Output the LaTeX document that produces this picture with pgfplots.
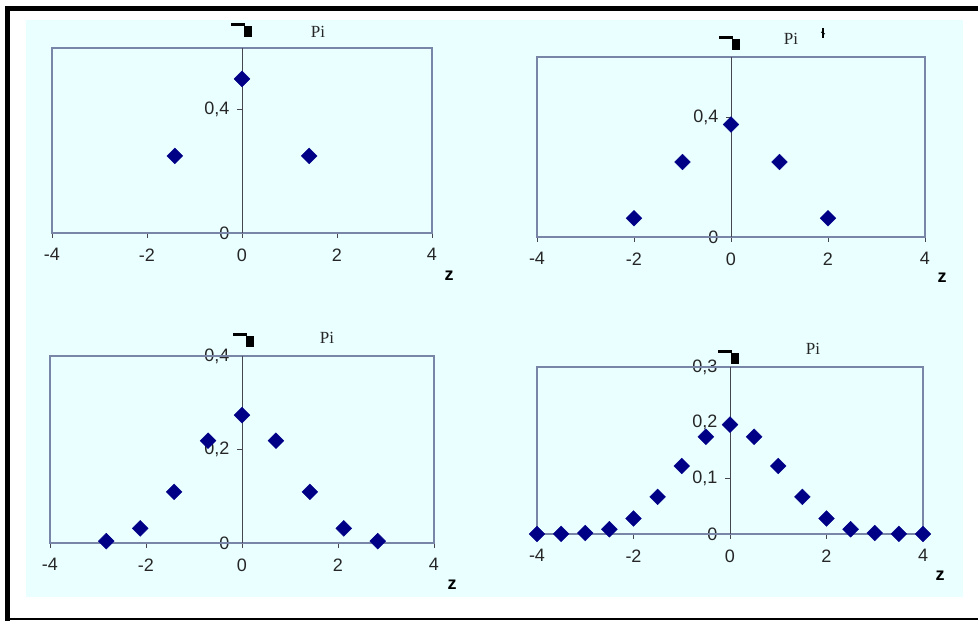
\documentclass[border=0pt]{standalone}
\usepackage{fontspec}
\usepackage{pgfplots}
\pgfplotsset{compat=1.18}
\setmainfont{Liberation Serif}
\setsansfont{Liberation Sans}

\definecolor{bgcyan}{RGB}{234,255,255}
\definecolor{framecol}{RGB}{122,134,168}
\definecolor{axiscol}{RGB}{70,70,80}
\definecolor{markcol}{RGB}{0,0,135}

\pgfplotsset{
  panel/.style={
    scale only axis,
    axis x line*=bottom,
    axis y line*=center,
    hide obscured x ticks=false,
    hide obscured y ticks=false,
    xmin=-4, xmax=4,
    xtick={-4,-2,0,2,4},
    tick align=outside,
    major tick length=5pt,
    tick style={axiscol, line width=0.7pt},
    axis line style={axiscol, line width=0.8pt},
    ticklabel style={font=\sffamily\fontsize{18}{18}\selectfont, text=black!85},
    /pgf/number format/use comma,
    /pgf/number format/assume math mode=true,
    yticklabel style={anchor=east, xshift=-4pt},
    xticklabel style={yshift=-7pt},
    clip=false,
  },
  pts/.style={only marks, mark=square*, mark size=5.6pt,
    mark options={fill=markcol, draw=markcol, rotate=45}},
}

% small glyph printed above each vertical axis
\newcommand\topglyph[2]{%
  \fill[black] (#1-13,621-#2) rectangle (#1+1,621-#2-3.5);
  \fill[black] (#1,621-#2-3) rectangle (#1+8,621-#2-14);
}

\begin{document}
\begin{tikzpicture}[x=1pt,y=1pt]
  \useasboundingbox (0,0) rectangle (978,621);
  \fill[white] (0,0) rectangle (978,621);
  \fill[bgcyan] (26,24) rectangle (963,601);
  \fill[black] (5,0) rectangle (10,615);
  \fill[black] (5,610) rectangle (978,615);
  \fill[black] (5,1) rectangle (978,3);

  % n = 2
  \begin{axis}[panel, at={(52pt,388pt)}, anchor=south west,
      width=380pt, height=185pt, ymin=0, ymax=0.6, ytick={0,0.4}]
    \draw[framecol, line width=2pt] (rel axis cs:0,0) rectangle (rel axis cs:1,1);
    \draw[axiscol, line width=0.8pt] (axis cs:0,0) -- (axis cs:0,0.6);
    \addplot[pts] coordinates {(-1.414,0.25) (0,0.5) (1.414,0.25)};
  \end{axis}

  % n = 4
  \begin{axis}[panel, at={(537pt,384pt)}, anchor=south west,
      width=388pt, height=180pt, ymin=0, ymax=0.6, ytick={0,0.4}]
    \draw[framecol, line width=2pt] (rel axis cs:0,0) rectangle (rel axis cs:1,1);
    \draw[axiscol, line width=0.8pt] (axis cs:0,0) -- (axis cs:0,0.6);
    \addplot[pts] coordinates {(-2,0.0625) (-1,0.25) (0,0.375) (1,0.25) (2,0.0625)};
  \end{axis}

  % n = 8
  \begin{axis}[panel, at={(50pt,78pt)}, anchor=south west,
      width=384pt, height=187pt, ymin=0, ymax=0.4, ytick={0,0.2,0.4}]
    \draw[framecol, line width=2pt] (rel axis cs:0,0) rectangle (rel axis cs:1,1);
    \draw[axiscol, line width=0.8pt] (axis cs:0,0) -- (axis cs:0,0.4);
    \addplot[pts] coordinates {
      (-2.828,0.0039) (-2.121,0.0313) (-1.414,0.1094) (-0.707,0.2188)
      (0,0.2734) (0.707,0.2188) (1.414,0.1094) (2.121,0.0313) (2.828,0.0039)};
  \end{axis}

  % n = 16
  \begin{axis}[panel, at={(537pt,87pt)}, anchor=south west,
      width=386pt, height=167pt, ymin=0, ymax=0.3, ytick={0,0.1,0.2,0.3}]
    \draw[framecol, line width=2pt] (rel axis cs:0,0) rectangle (rel axis cs:1,1);
    \draw[axiscol, line width=0.8pt] (axis cs:0,0) -- (axis cs:0,0.3);
    \addplot[pts] coordinates {
      (-4,0.0000) (-3.5,0.0002) (-3,0.0018) (-2.5,0.0085) (-2,0.0278)
      (-1.5,0.0667) (-1,0.1222) (-0.5,0.1746) (0,0.1964) (0.5,0.1746)
      (1,0.1222) (1.5,0.0667) (2,0.0278) (2.5,0.0085) (3,0.0018)
      (3.5,0.0002) (4,0.0000)};
  \end{axis}

  % axis titles
  \tikzset{pi/.style={font=\rmfamily\fontsize{17}{17}\selectfont, text=black!85},
           zl/.style={font=\sffamily\bfseries\fontsize{18}{18}\selectfont}}
  \node[pi] at (318,621-32) {Pi};
  \node[pi] at (791,621-39) {Pi};
  \node[pi] at (327,621-338) {Pi};
  \node[pi] at (813,621-349) {Pi};
  \node[zl] at (449,621-276) {z};
  \node[zl] at (942,621-278) {z};
  \node[zl] at (452,621-585) {z};
  \node[zl] at (940,621-576) {z};

  \topglyph{244}{23}
  \topglyph{732}{36}
  \topglyph{246}{333}
  \topglyph{731}{350}
  \draw[black, line width=1.2pt] (823,621-28) -- (823,621-38);
  \draw[black, line width=0.8pt] (821,621-32) -- (825,621-34);
\end{tikzpicture}
\end{document}
